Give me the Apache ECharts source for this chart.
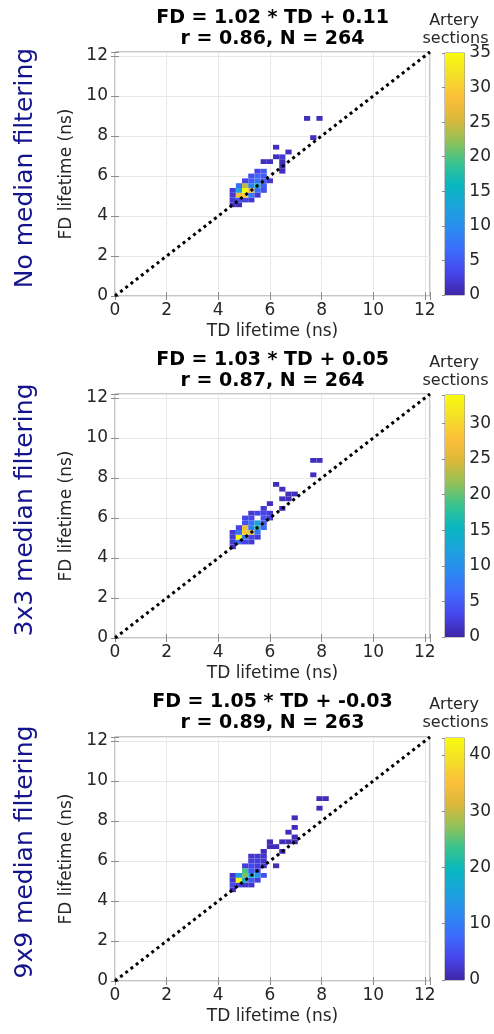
<!DOCTYPE html>
<html>
<head>
<meta charset="utf-8">
<script src="https://cdn.jsdelivr.net/npm/echarts@6/dist/echarts.min.js"></script>
<style>
html, body { margin: 0; padding: 0; background: #fff; }
#main { width: 494px; height: 1034px; }
</style>
</head>
<body>
<div id="main"></div>
<script>
var panelNames = ['No median filtering', '3x3 median filtering', '9x9 median filtering'];
var fitLines = ['FD = 1.02 * TD + 0.11', 'FD = 1.03 * TD + 0.05', 'FD = 1.05 * TD + -0.03'];
var statLines = ['r = 0.86, N = 264', 'r = 0.87, N = 264', 'r = 0.89, N = 263'];
var axisMax = 12.2;
var axisStep = 2;
var cbarMax = [35, 34, 43];
var cbarStep = [5, 5, 10];
var identityLine = [[0, 0], [12.2, 12.2]];

// [TD bin centre (ns), FD bin centre (ns), count]
var cellsNoFilter = [
  [4.56,4.56,1],[4.80,4.56,1],
  [4.56,4.80,2],[4.80,4.80,4],[5.04,4.80,3],[5.28,4.80,2],
  [4.56,5.04,2],[4.80,5.04,28],[5.04,5.04,30],[5.28,5.04,8],[5.52,5.04,2],
  [4.56,5.28,2],[4.80,5.28,13],[5.04,5.28,35],[5.28,5.28,27],[5.52,5.28,7],[5.76,5.28,4],
  [4.80,5.52,7],[5.04,5.52,24],[5.28,5.52,9],[5.52,5.52,16],[5.76,5.52,5],
  [5.04,5.76,3],[5.28,5.76,5],[5.52,5.76,7],[5.76,5.76,5],[6.00,5.76,2],
  [5.28,6.00,4],[5.52,6.00,6],[5.76,6.00,5],
  [5.52,6.24,3],[5.76,6.24,5],[6.48,6.24,1],
  [6.48,6.48,1],
  [5.76,6.72,1],[6.00,6.72,1],[6.48,6.72,1],
  [6.24,6.96,1],[6.48,6.96,2],
  [6.72,7.20,1],
  [6.24,7.44,1],
  [7.68,7.92,1],
  [7.44,8.88,1],[7.92,8.88,1]
];
var cells3x3 = [
  [4.56,4.56,1],
  [4.56,4.80,2],[4.80,4.80,6],[5.04,4.80,3],[5.28,4.80,2],
  [4.56,5.04,2],[4.80,5.04,34],[5.04,5.04,8],[5.28,5.04,3],[5.52,5.04,2],
  [4.56,5.28,2],[4.80,5.28,7],[5.04,5.28,29],[5.28,5.28,26],[5.52,5.28,7],
  [4.80,5.52,3],[5.04,5.52,27],[5.28,5.52,8],[5.52,5.52,17],[5.76,5.52,6],
  [5.04,5.76,4],[5.28,5.76,7],[5.52,5.76,12],[5.76,5.76,5],
  [5.04,6.00,3],[5.28,6.00,3],[5.76,6.00,4],[6.00,6.00,2],
  [5.28,6.24,2],[5.52,6.24,3],[5.76,6.24,3],[6.00,6.24,2],
  [5.76,6.48,2],[6.48,6.48,1],
  [6.00,6.72,1],
  [6.48,6.96,1],[6.72,6.96,1],
  [6.72,7.20,1],[6.96,7.20,1],
  [6.48,7.44,1],
  [6.24,7.68,1],
  [7.68,8.16,1],
  [7.68,8.88,1],[7.92,8.88,1]
];
var cells9x9 = [
  [4.56,4.56,1],
  [4.56,4.80,4],[4.80,4.80,3],[5.04,4.80,2],[5.28,4.80,2],
  [4.56,5.04,2],[4.80,5.04,43],[5.04,5.04,18],[5.28,5.04,6],[5.52,5.04,3],
  [4.56,5.28,2],[4.80,5.28,14],[5.04,5.28,26],[5.28,5.28,17],[5.52,5.28,14],[5.76,5.28,5],
  [5.04,5.52,24],[5.28,5.52,6],[5.52,5.52,4],
  [5.04,5.76,3],[5.28,5.76,4],[5.52,5.76,3],[5.76,5.76,2],[6.24,5.76,1],
  [5.28,6.00,3],[5.52,6.00,3],[5.76,6.00,2],
  [5.28,6.24,2],[5.52,6.24,2],[5.76,6.24,2],
  [5.76,6.48,1],[6.48,6.48,1],
  [6.00,6.72,1],[6.24,6.72,1],
  [6.00,6.96,1],[6.48,6.96,1],[6.72,6.96,1],[6.96,6.96,1],
  [6.96,7.20,1],
  [6.72,7.44,1],
  [6.96,7.68,1],
  [6.96,8.16,1],
  [7.92,8.64,1],
  [7.92,9.12,1],[8.16,9.12,1]
];
var panelCells = [cellsNoFilter, cells3x3, cells9x9];

// parula-like colormap
var PARULA = ['#3e26a8', '#4745ec', '#3d6bfc', '#2b8af0', '#1ba3dc', '#08b7bf',
  '#38c38f', '#93c157', '#dcb839', '#fcbf3a', '#f4df27', '#f9fb0e'];
var BIN = 0.24;
var FONT = 'DejaVu Sans';
var panelTops = [52, 394, 737];

var chart = echarts.init(document.getElementById('main'));

var barStops = PARULA.map(function (c, i) { return { offset: i / (PARULA.length - 1), color: c }; });

function renderTile(params, api) {
  var td = api.value(0), fd = api.value(1);
  var a = api.coord([td - BIN / 2, fd + BIN / 2]);
  var b = api.coord([td + BIN / 2, fd - BIN / 2]);
  return {
    type: 'rect',
    shape: { x: a[0], y: a[1], width: b[0] - a[0], height: b[1] - a[1] },
    style: { fill: api.visual('color') }
  };
}

// colour bar: one gradient rect spanning the count axis
function renderBar(params, api) {
  var a = api.coord([0, api.value(1)]);
  var b = api.coord([1, api.value(0)]);
  return {
    type: 'rect',
    shape: { x: a[0], y: a[1], width: b[0] - a[0], height: b[1] - a[1] },
    style: { fill: { type: 'linear', x: 0, y: 1, x2: 0, y2: 0, colorStops: barStops } }
  };
}

function stepFormatter(s) {
  return function (v) { return Math.abs(v % s) < 1e-9 ? String(v) : ''; };
}

var grids = [], xAxes = [], yAxes = [], series = [], visualMaps = [], graphics = [];

for (var k = 0; k < 3; k++) {
  var pTop = panelTops[k];
  var g = grids.length;
  grids.push({ left: 115, top: pTop, width: 315, height: 244, show: true,
    borderColor: '#8c8c8c', borderWidth: 1, backgroundColor: '#fff' });
  grids.push({ left: 445, top: pTop + 1, width: 22, height: 242, show: true,
    borderColor: '#8c8c8c', borderWidth: 1 });

  var xi = xAxes.length;
  xAxes.push({
    type: 'value', gridIndex: g, min: 0, max: axisMax, interval: axisStep,
    name: 'TD lifetime (ns)', nameLocation: 'middle', nameGap: 27,
    nameTextStyle: { fontFamily: FONT, fontSize: 17, color: '#262626' },
    axisLine: { show: false },
    axisTick: { inside: true, length: 4, lineStyle: { color: '#8c8c8c' } },
    axisLabel: { fontFamily: FONT, fontSize: 17, color: '#262626', margin: 6, formatter: stepFormatter(axisStep) },
    splitLine: { show: true, lineStyle: { color: '#e8e8e8' } }
  });
  xAxes.push({
    type: 'value', gridIndex: g, min: 0, max: axisMax, interval: axisStep, position: 'top',
    axisLine: { show: false }, axisLabel: { show: false }, splitLine: { show: false },
    axisTick: { inside: true, length: 4, lineStyle: { color: '#8c8c8c' } }
  });
  xAxes.push({ type: 'value', gridIndex: g + 1, min: 0, max: 1, show: false });

  var yi = yAxes.length;
  yAxes.push({
    type: 'value', gridIndex: g, min: 0, max: axisMax, interval: axisStep,
    name: 'FD lifetime (ns)', nameLocation: 'middle', nameGap: 29, nameRotate: 90,
    nameTextStyle: { fontFamily: FONT, fontSize: 17, color: '#262626' },
    axisLine: { show: false },
    axisTick: { inside: true, length: 4, lineStyle: { color: '#8c8c8c' } },
    axisLabel: { fontFamily: FONT, fontSize: 17, color: '#262626', margin: 7, formatter: stepFormatter(axisStep) },
    splitLine: { show: true, lineStyle: { color: '#e8e8e8' } }
  });
  yAxes.push({
    type: 'value', gridIndex: g, min: 0, max: axisMax, interval: axisStep, position: 'right',
    axisLine: { show: false }, axisLabel: { show: false }, splitLine: { show: false },
    axisTick: { inside: true, length: 4, lineStyle: { color: '#8c8c8c' } }
  });
  yAxes.push({
    type: 'value', gridIndex: g + 1, min: 0, max: cbarMax[k], interval: cbarStep[k], position: 'right',
    axisLine: { show: false }, splitLine: { show: false },
    axisTick: { inside: true, length: 3, lineStyle: { color: '#8c8c8c' } },
    axisLabel: { fontFamily: FONT, fontSize: 17, color: '#262626', margin: 5, formatter: stepFormatter(cbarStep[k]) }
  });

  visualMaps.push({
    show: false, type: 'continuous', seriesIndex: series.length, dimension: 2,
    min: 0, max: cbarMax[k], inRange: { color: PARULA }
  });
  series.push({
    type: 'custom', xAxisIndex: xi, yAxisIndex: yi, renderItem: renderTile,
    encode: { x: 0, y: 1 }, data: panelCells[k], z: 2
  });
  series.push({
    type: 'line', xAxisIndex: xi, yAxisIndex: yi, data: identityLine, showSymbol: false,
    lineStyle: { color: '#000', width: 3, type: [3, 3.6] }, z: 3, silent: true
  });
  series.push({
    type: 'custom', xAxisIndex: xi + 2, yAxisIndex: yi + 2, renderItem: renderBar,
    encode: { x: -1, y: [0, 1] }, data: [[0, cbarMax[k]]], silent: true
  });

  var off = k * 342;
  graphics.push({ type: 'text', x: 25, y: 168 + off, rotation: Math.PI / 2,
    style: { text: panelNames[k], font: '25px "DejaVu Sans"', fill: '#14148c',
      textAlign: 'center', textVerticalAlign: 'middle' } });
  graphics.push({ type: 'text', x: 272.5, y: 18 + off,
    style: { text: fitLines[k], font: 'bold 19px "DejaVu Sans"', fill: '#000',
      textAlign: 'center', textVerticalAlign: 'middle' } });
  graphics.push({ type: 'text', x: 272.5, y: 39.5 + off,
    style: { text: statLines[k], font: 'bold 19px "DejaVu Sans"', fill: '#000',
      textAlign: 'center', textVerticalAlign: 'middle' } });
  graphics.push({ type: 'text', x: 454, y: 20.5 + off,
    style: { text: 'Artery', font: '16px "DejaVu Sans"', fill: '#262626',
      textAlign: 'center', textVerticalAlign: 'middle' } });
  graphics.push({ type: 'text', x: 455.5, y: 38.5 + off,
    style: { text: 'sections', font: '16px "DejaVu Sans"', fill: '#262626',
      textAlign: 'center', textVerticalAlign: 'middle' } });
}

chart.setOption({
  backgroundColor: '#fff',
  animation: false,
  grid: grids,
  xAxis: xAxes,
  yAxis: yAxes,
  visualMap: visualMaps,
  series: series,
  graphic: graphics
});
</script>
</body>
</html>
